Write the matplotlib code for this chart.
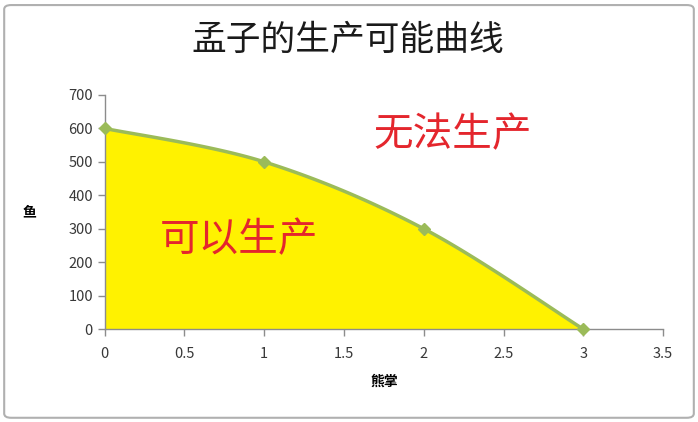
import numpy as np
import matplotlib.pyplot as plt
from matplotlib.patches import FancyBboxPatch

plt.rcParams['font.family'] = ['Noto Sans CJK SC', 'DejaVu Sans']

# data
bear_paw = np.array([0, 1, 2, 3])
fish = np.array([600, 500, 300, 0])
title = '孟子的生产可能曲线'
x_label = '熊掌'
y_label = '鱼'
x_ticks = [0, 0.5, 1, 1.5, 2, 2.5, 3, 3.5]
y_ticks = [0, 100, 200, 300, 400, 500, 600, 700]


def smooth_curve(x, y, steps=40):
    # excel-style smoothed line: cubic bezier between points
    px = np.concatenate([[x[0]], x, [x[-1]]])
    py = np.concatenate([[y[0]], y, [y[-1]]])
    xs, ys = [], []
    t = np.linspace(0, 1, steps)
    for i in range(1, len(px) - 2):
        p0 = np.array([px[i], py[i]])
        p3 = np.array([px[i + 1], py[i + 1]])
        p1 = p0 + (np.array([px[i + 1], py[i + 1]]) - np.array([px[i - 1], py[i - 1]])) / 6
        p2 = p3 - (np.array([px[i + 2], py[i + 2]]) - np.array([px[i], py[i]])) / 6
        b = ((1 - t) ** 3)[:, None] * p0 + (3 * (1 - t) ** 2 * t)[:, None] * p1 \
            + (3 * (1 - t) * t ** 2)[:, None] * p2 + (t ** 3)[:, None] * p3
        xs.extend(b[:, 0])
        ys.extend(b[:, 1])
    return np.array(xs), np.array(ys)


fig = plt.figure(figsize=(6.98, 4.22), dpi=100)
ax = fig.add_axes([0.150, 0.220, 0.800, 0.555])

sx, sy = smooth_curve(bear_paw, fish)
ax.fill_between(sx, sy, 0, color='#fff200', zorder=1)
ax.plot(sx, sy, color='#9bbb59', lw=2.5, zorder=2)
ax.plot(bear_paw, fish, ls='none', marker='D', ms=6, color='#9bbb59', zorder=3, clip_on=False)

ax.set_xlim(0, 3.5)
ax.set_ylim(0, 700)
ax.set_xticks(x_ticks)
ax.set_xticklabels([f'{v:g}' for v in x_ticks])
ax.set_yticks(y_ticks)

for s in ['top', 'right']:
    ax.spines[s].set_visible(False)
for s in ['left', 'bottom']:
    ax.spines[s].set_color('#8c8c8c')
    ax.spines[s].set_linewidth(1)
ax.tick_params(colors='#8c8c8c', labelcolor='#383838', labelsize=10.5, length=5, width=1)
ax.tick_params(axis='x', pad=8)

ax.set_xlabel(x_label, fontsize=10, fontweight='bold', labelpad=10)
ax.set_ylabel(y_label, fontsize=10, fontweight='bold', rotation=0, labelpad=28, va='center')

fig.text(0.499, 0.905, title, fontsize=25, ha='center', va='center', color='#1a1a1a')

ax.text(2.18, 580, '无法生产', fontsize=28.5, color='#e4262d', ha='center', va='center')
ax.text(0.84, 266, '可以生产', fontsize=28.5, color='#e4262d', ha='center', va='center')

fig.patches.append(FancyBboxPatch((0.006, 0.01), 0.988, 0.978, boxstyle='round,pad=0,rounding_size=0.01',
                                  transform=fig.transFigure, fill=False, edgecolor='#b0b0b0', lw=1.5))

fig.savefig('out.png', dpi=100)
